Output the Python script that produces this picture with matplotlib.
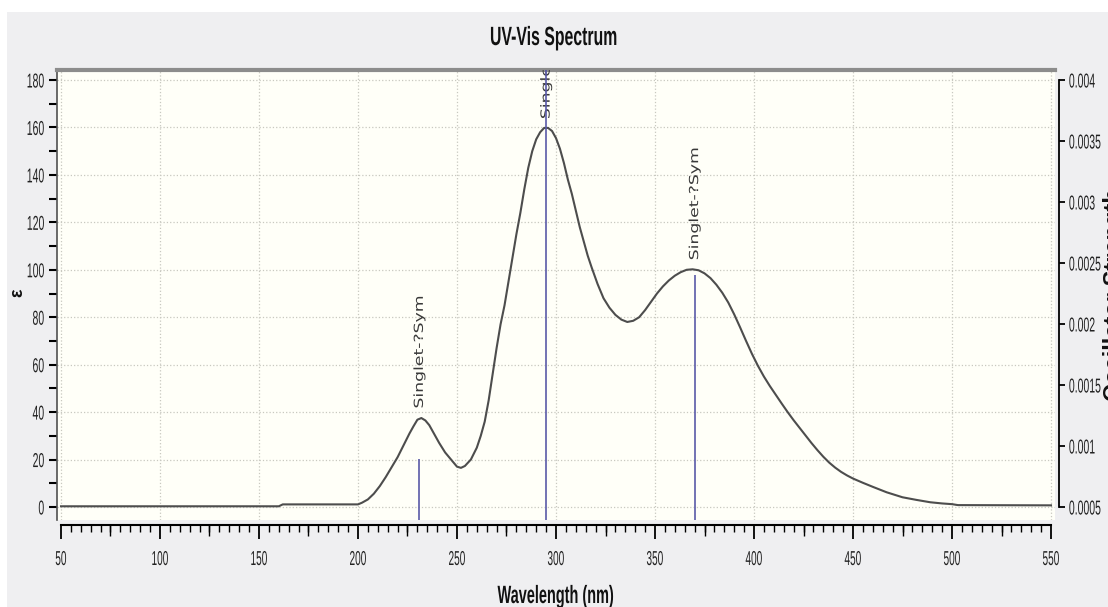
import matplotlib.pyplot as plt
from matplotlib.patches import Rectangle
from matplotlib.patheffects import AbstractPathEffect
from matplotlib.transforms import Affine2D
from matplotlib.ticker import MultipleLocator, FixedLocator

# spectrum (wavelength nm, epsilon)
wavelength = [50, 160, 162, 200, 202, 205, 208, 211, 214, 217, 220, 223, 226, 228,
              230, 232, 234, 236, 238, 241, 244, 247, 250, 252, 254, 257, 260, 262,
              264, 266, 268, 270, 272, 274, 276, 278, 280, 282, 284, 286, 288, 290,
              292, 294, 296, 298, 300, 302, 304, 306, 308, 310, 312, 314, 316, 318,
              321, 324, 327, 330, 333, 336, 339, 342, 345, 348, 351, 354, 357, 360,
              363, 366, 369, 372, 375, 378, 381, 384, 387, 390, 393, 396, 399, 402,
              405, 408, 411, 414, 417, 420, 423, 426, 429, 432, 435, 438, 441, 444,
              447, 450, 455, 460, 467, 475, 482, 489, 495, 500, 503, 550]
epsilon = [0.3, 0.3, 1.1, 1.1, 1.8, 3.2, 5.6, 8.8, 12.6, 16.8, 21, 26, 31, 34,
           36.8, 37.5, 36.5, 34.5, 31.5, 27, 23, 20, 17, 16.5, 17.3, 20, 25, 30,
           36, 45, 56, 67, 77, 85, 95, 105, 115, 124, 134, 143, 150, 155,
           158, 159.8, 159.8, 158.5, 155.5, 151, 145, 138, 132, 125, 118, 112, 106, 101,
           94, 88, 84, 81, 79, 78, 78.5, 80, 83, 86.5, 90, 93, 95.5, 97.5,
           99, 100, 100.2, 99.8, 98.5, 96.5, 93.7, 90.3, 86.2, 81.2, 75.7, 70, 64.5, 59.5,
           55, 51, 47.3, 43.6, 40, 36.6, 33.4, 30.2, 27, 24, 21.2, 18.7, 16.6, 14.8,
           13.3, 12, 10.2, 8.5, 6.2, 4.1, 3, 2, 1.5, 1.2, 0.8, 0.7]

# excitations (nm, oscillator strength)
stick_wl = [231, 295, 370]
stick_f = [0.00089, 0.0045, 0.0024]
stick_label = ['Singlet-?Sym', 'Singlet-?Sym', 'Singlet-?Sym']
label_eps = [41.5, 163.5, 104]

x_major = list(range(50, 551, 50))
y_major = list(range(0, 181, 20))
f_major = [0.0005, 0.001, 0.0015, 0.002, 0.0025, 0.003, 0.0035, 0.004]
f_labels = ['0.0005', '0.001', '0.0015', '0.002', '0.0025', '0.003', '0.0035', '0.004']


class Squeeze(AbstractPathEffect):
    """squash/stretch a text's glyphs around one of its edges (condensed look)"""

    def __init__(self, sx=1.0, sy=1.0, xa='center', ya='bottom'):
        super().__init__()
        self.sx, self.sy, self.xa, self.ya = sx, sy, xa, ya

    def draw_path(self, renderer, gc, tpath, affine, rgbFace=None):
        pts = affine.transform(tpath.vertices)
        x0 = {'left': pts[:, 0].min(), 'right': pts[:, 0].max(),
              'center': 0.5 * (pts[:, 0].min() + pts[:, 0].max())}[self.xa]
        y0 = {'bottom': pts[:, 1].min(), 'top': pts[:, 1].max(),
              'center': 0.5 * (pts[:, 1].min() + pts[:, 1].max())}[self.ya]
        t = affine + Affine2D().translate(-x0, -y0).scale(self.sx, self.sy).translate(x0, y0)
        renderer.draw_path(gc, tpath, t, rgbFace)


plt.rcParams['font.family'] = ['Liberation Sans', 'DejaVu Sans']

W, H = 1108, 607
fig = plt.figure(figsize=(W / 100, H / 100), dpi=100, facecolor='#efeff1')
fig.patches.append(Rectangle((0, 1 - 12 / H), 1, 12 / H, transform=fig.transFigure,
                             facecolor='white', edgecolor='none', zorder=-1))
fig.patches.append(Rectangle((0, 0), 7 / W, 1, transform=fig.transFigure,
                             facecolor='white', edgecolor='none', zorder=-1))

ax = fig.add_axes([57 / W, 1 - 520 / H, 998 / W, 450 / H])
ax.set_facecolor('#fffff8')

ax.plot(wavelength, epsilon, color='#4d4d4d', lw=1.5, zorder=3)

ax.set_xlim(47.98, 552.02)
ax.set_ylim(-5.48, 184.22)

ax.xaxis.set_major_locator(FixedLocator(x_major))
ax.xaxis.set_minor_locator(MultipleLocator(5))
ax.yaxis.set_major_locator(FixedLocator(y_major))
ax.yaxis.set_minor_locator(MultipleLocator(10))
ax.grid(True, which='major', color='#c8c8c0', ls=':', lw=0.9)
ax.set_axisbelow(True)

ax.spines['top'].set_color('#8c8c8c')
ax.spines['top'].set_linewidth(3)
ax.spines['right'].set_visible(False)
ax.spines['left'].set_color('#505050')
ax.spines['left'].set_linewidth(1.2)
ax.spines['bottom'].set_position(('outward', 3.6))
ax.spines['bottom'].set_bounds(50, 550)
ax.spines['bottom'].set_linewidth(1.5)

ax.tick_params(axis='x', which='major', length=10, width=1.3, pad=8, labelsize=14.5,
               labelcolor='#222222')
ax.tick_params(axis='x', which='minor', length=5, width=1.0)
ax.tick_params(axis='y', which='both', length=6, width=1.5, labelsize=14.5,
               labelcolor='#222222', pad=3)

ax.set_xticklabels([str(v) for v in x_major])
ax.set_yticklabels([str(v) for v in y_major])
for lab in ax.get_xticklabels():
    lab.set_path_effects([Squeeze(sx=0.5, xa='center')])
for lab in ax.get_yticklabels():
    lab.set_path_effects([Squeeze(sx=0.52, xa='right')])

# medium ticks every 25 nm
sec = ax.secondary_xaxis('bottom')
sec.spines['bottom'].set_visible(False)
sec.spines['bottom'].set_position(('outward', 3.6))
sec.set_xticks([v + 25 for v in x_major[:-1]])
sec.tick_params(axis='x', length=8, width=1.0, labelbottom=False)

ax2 = ax.twinx()
ax2.set_ylim(0.0005 - 5.48 * 0.0035 / 180, 0.0005 + 184.22 * 0.0035 / 180)
ax2.vlines(stick_wl, ax2.get_ylim()[0], stick_f, color='#5a5aa8', lw=1.2, zorder=2)
for wl, e, txt in zip(stick_wl, label_eps, stick_label):
    ax.text(wl, e, txt, rotation=90, ha='center', va='bottom', fontsize=9,
            family=['DejaVu Sans'], color='#3a3a3a', clip_on=True, zorder=4,
            path_effects=[Squeeze(sy=1.38, xa='center', ya='bottom')])

for s in ['top', 'left', 'bottom']:
    ax2.spines[s].set_visible(False)
ax2.spines['right'].set_position(('outward', 3))
ax2.spines['right'].set_bounds(0.0005, 0.004)
ax2.spines['right'].set_linewidth(1.3)
ax2.set_yticks(f_major)
ax2.set_yticklabels(f_labels)
ax2.tick_params(axis='y', length=4, width=1.3, labelsize=14.5, labelcolor='#222222', pad=3)
for lab in ax2.get_yticklabels():
    lab.set_path_effects([Squeeze(sx=0.52, xa='left')])

fig.text(0.5, 1 - 38 / H, 'UV-Vis Spectrum', ha='center', va='center',
         fontsize=19, fontweight='bold', color='#111111',
         path_effects=[Squeeze(sx=0.6, xa='center', ya='center')])
fig.text(556 / W, 1 - 603 / H, 'Wavelength (nm)', ha='center', va='baseline',
         fontsize=18, fontweight='bold', color='#111111',
         path_effects=[Squeeze(sx=0.58, xa='center', ya='center')])
fig.text(18 / W, 1 - 293 / H, 'ε', rotation=90, ha='center', va='center',
         fontsize=13, fontweight='bold', color='#111111')
fig.text(1103 / W, 1 - 295 / H, 'Oscillator Strength', rotation=90, ha='left',
         va='center', fontsize=17, fontweight='bold', color='#111111')

fig.savefig('out.png', dpi=100, facecolor=fig.get_facecolor())
